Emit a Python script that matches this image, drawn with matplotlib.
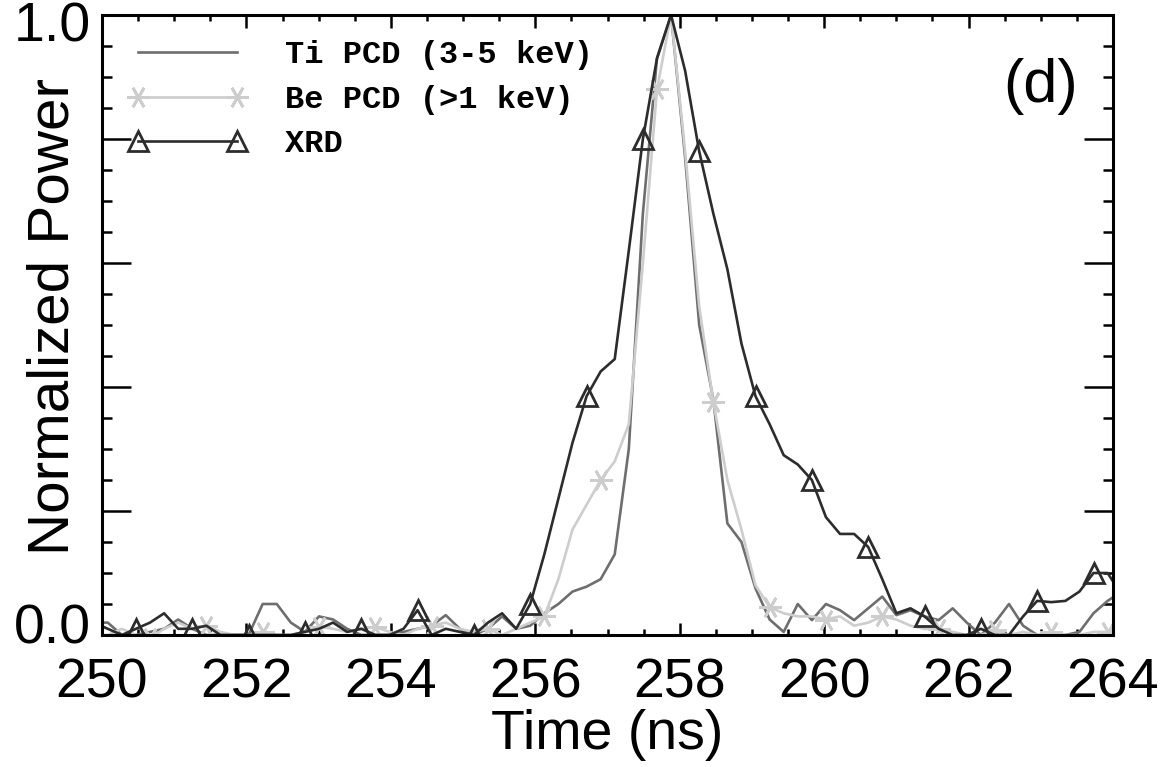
import numpy as np
import matplotlib.pyplot as plt
from matplotlib.lines import Line2D
from matplotlib.ticker import MultipleLocator, FuncFormatter
from matplotlib.transforms import ScaledTranslation

# sample times (ns), digitizer step ~0.195 ns
time_ns = np.round(249.885 + 0.195 * np.arange(74), 3)

# normalized power
ti_pcd = [0.02, 0.02, 0.0, 0.0, 0.005, 0.01, 0.025, 0.01, 0.0, 0.0,
          0.0, 0.0, 0.05, 0.05, 0.02, 0.005, 0.03, 0.025, 0.01, 0.0,
          0.0, 0.0, 0.005, 0.01, 0.015, 0.032, 0.01, 0.0, 0.01, 0.03,
          0.01, 0.015, 0.035, 0.05, 0.07, 0.078, 0.09, 0.13, 0.30, 0.68,
          0.93, 1.0, 0.77, 0.50, 0.38, 0.18, 0.15, 0.075, 0.025, 0.005,
          0.05, 0.024, 0.05, 0.04, 0.024, 0.043, 0.062, 0.032, 0.04, 0.03,
          0.024, 0.043, 0.02, 0.0, 0.02, 0.05, 0.015, 0.0, 0.0, 0.0,
          0.005, 0.035, 0.055, 0.07]

be_pcd = [0.0, 0.0, 0.01, 0.0, -0.005, 0.01, 0.02, 0.01, 0.015, 0.005,
          0.0, 0.0, 0.005, 0.0, 0.0, 0.005, 0.013, 0.01, 0.005, 0.01,
          0.013, 0.005, 0.0, 0.01, 0.015, 0.02, 0.01, 0.005, 0.01, 0.0,
          0.01, 0.02, 0.03, 0.09, 0.17, 0.21, 0.25, 0.28, 0.34, 0.60,
          0.88, 1.0, 0.78, 0.53, 0.376, 0.25, 0.17, 0.08, 0.045, 0.035,
          0.03, 0.03, 0.025, 0.03, 0.015, 0.02, 0.03, 0.025, 0.015, 0.01,
          0.01, 0.005, 0.0, 0.0, 0.008, 0.0, 0.005, 0.0, 0.005, 0.0,
          0.0, 0.005, 0.005, 0.015]

xrd = [0.02, 0.01, 0.0, 0.01, 0.02, 0.035, 0.01, 0.01, 0.015, 0.0,
       0.0, 0.0, 0.0, 0.0, 0.0, 0.005, 0.01, 0.02, 0.005, 0.01,
       0.0, 0.0, 0.01, 0.04, 0.0, 0.01, 0.005, 0.0, 0.02, 0.035,
       0.01, 0.05, 0.13, 0.22, 0.31, 0.385, 0.425, 0.445, 0.62, 0.80,
       0.93, 1.0, 0.91, 0.78, 0.68, 0.59, 0.47, 0.385, 0.34, 0.29,
       0.275, 0.25, 0.19, 0.163, 0.163, 0.142, 0.09, 0.035, 0.043, 0.03,
       0.01, 0.0, 0.0, 0.01, 0.0, 0.0, 0.03, 0.055, 0.053, 0.055,
       0.07, 0.10, 0.10, 0.065]

labels = ["Ti PCD (3-5 keV)", "Be PCD (>1 keV)", "XRD"]
c_ti, c_be, c_xrd = "#6e6e6e", "#cdcdcd", "#2c2c2c"

plt.rcParams["font.family"] = ["Liberation Sans", "DejaVu Sans"]

fig = plt.figure(figsize=(11.6, 7.67), dpi=100)
ax = fig.add_axes([102 / 1160, 132 / 767, 1011 / 1160, 620 / 767])

lw = 1.9
star = (6, 2, 90)
ax.plot(time_ns, ti_pcd, color=c_ti, lw=lw)
ax.plot(time_ns, be_pcd, color=c_be, lw=lw, marker=star, ms=16,
        mew=2, markevery=(4, 4))
ax.plot(time_ns, xrd, color=c_xrd, lw=lw, marker="^", ms=15, mfc="none",
        mew=2, markevery=(3, 4))

ax.set_xlim(250, 264)
ax.set_ylim(0, 1)

ax.xaxis.set_major_locator(MultipleLocator(2))
ax.xaxis.set_minor_locator(MultipleLocator(0.5))
ax.yaxis.set_major_locator(MultipleLocator(0.2))
ax.yaxis.set_minor_locator(MultipleLocator(0.05))
ax.yaxis.set_major_formatter(
    FuncFormatter(lambda v, p: f"{v:.1f}" if abs(v) < 1e-6 or abs(v - 1) < 1e-6 else ""))

ax.tick_params(axis="both", which="both", direction="in", top=True, right=True,
               width=1.8, labelsize=40)
ax.tick_params(axis="x", which="major", length=9, pad=16)
ax.tick_params(axis="x", which="minor", length=4)
ax.tick_params(axis="y", which="major", length=21, pad=8)
ax.tick_params(axis="y", which="minor", length=7)
for s in ax.spines.values():
    s.set_linewidth(2.2)

ax.set_xlabel("Time (ns)", fontsize=40, labelpad=0)
ax.set_ylabel("Normalized Power", fontsize=42)
ax.yaxis.set_label_coords(-0.021, 0.513)

ax.text(0.928, 0.885, "(d)", transform=ax.transAxes, fontsize=44,
        ha="center", va="center")

handles = [
    Line2D([], [], color=c_ti, lw=lw),
    Line2D([], [], color=c_be, lw=lw, marker=star, ms=16, mew=2),
    Line2D([], [], color=c_xrd, lw=lw, marker="^", ms=15, mfc="none", mew=2),
]
ax.legend(handles, labels, loc="upper left", bbox_to_anchor=(0.026, 0.959),
          frameon=False, numpoints=2, handlelength=3.7, handletextpad=1.21,
          labelspacing=0.45, borderpad=0, borderaxespad=0,
          prop={"family": "Liberation Mono", "weight": "bold", "size": 23})

# nudge the two y labels like in the original (1.0 down, 0.0 up)
fig.canvas.draw()
for tk in ax.yaxis.get_major_ticks():
    loc = tk.get_loc()
    if loc is None:
        continue
    if abs(loc) < 1e-6:
        dy = 0.12
    elif abs(loc - 1) < 1e-6:
        dy = -0.07
    else:
        continue
    tk.label1.set_transform(tk.label1.get_transform()
                            + ScaledTranslation(0, dy, fig.dpi_scale_trans))

fig.savefig("out.png", dpi=100)
